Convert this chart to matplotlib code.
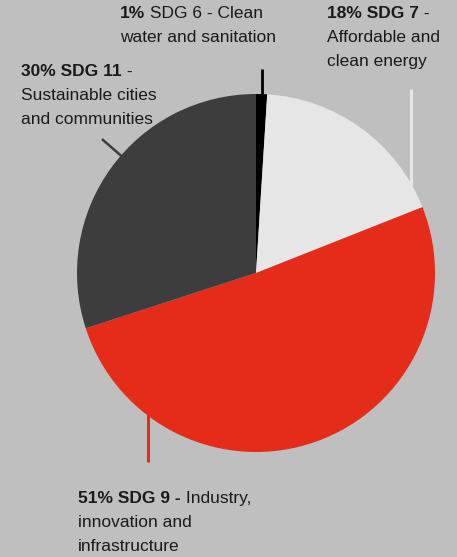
import matplotlib
matplotlib.use("Agg")
import matplotlib.pyplot as plt
import numpy as np

# data
sdgs = ["SDG 6", "SDG 7", "SDG 9", "SDG 11"]
shares = [1, 18, 51, 30]
# label text, split in lines as in the reference; (text, bold) parts per line
label_lines = {
    "SDG 6": [[("1%", True), (" SDG 6 - Clean", False)],
              [("water and sanitation", False)]],
    "SDG 7": [[("18% SDG 7", True), (" -", False)],
              [("Affordable and", False)],
              [("clean energy", False)]],
    "SDG 9": [[("51% SDG 9 -", True), (" Industry,", False)],
              [("innovation and", False)],
              [("infrastructure", False)]],
    "SDG 11": [[("30% SDG 11", True), (" -", False)],
               [("Sustainable cities", False)],
               [("and communities", False)]],
}

colors = ["#000000", "#e6e6e6", "#e52b1a", "#3d3d3d"]
bg = "#bfbfbf"
txt_color = "#1a1a1a"

W, H = 457, 557
plt.rcParams["font.family"] = ["Liberation Sans", "DejaVu Sans"]

fig = plt.figure(figsize=(W / 100, H / 100), dpi=100, facecolor=bg)

# pie geometry in pixels (from top-left)
cx, cy, R = 256, 273, 179
ax = fig.add_axes([(cx - R) / W, (H - cy - R) / H, 2 * R / W, 2 * R / H])
wedges, _ = ax.pie(shares, colors=colors, startangle=90, counterclock=False,
                   radius=1, wedgeprops=dict(linewidth=0))
ax.set_xlim(-1, 1)
ax.set_ylim(-1, 1)
ax.axis("off")


def on_edge(deg_cw, r=1.0):
    t = np.radians(90 - deg_cw)
    return r * np.cos(t), r * np.sin(t)


# leader lines: (angle clockwise from top, kind, length)
mid6 = 360 * shares[0] / 2 / 100
leaders = [
    (mid6, "up", 0.14, colors[0], 2.0),
    (60, "up", 0.53, colors[1], 2.2),
    (217, "down", 0.26, colors[2], 2.2),
    (311, "radial", 0.14, colors[3], 1.8),
]
for ang, kind, ln, c, lw in leaders:
    if kind == "radial":
        x0, y0 = on_edge(ang, 0.96)
        x1, y1 = on_edge(ang, 1 + ln)
    else:
        ex, ey = on_edge(ang)
        x0 = x1 = ex
        if kind == "up":
            y0, y1 = ey - 0.04, ey + ln
        else:
            y0, y1 = ey + 0.04, ey - ln
    ax.plot([x0, x1], [y0, y1], color=c, lw=lw, zorder=0, clip_on=False,
            solid_capstyle="butt")

# labels: left x and first baseline in pixels
label_pos = {"SDG 6": (120, 18), "SDG 7": (327, 18),
             "SDG 9": (78, 503), "SDG 11": (21, 76)}
line_gap = 24
fs = 12.5

fig.canvas.draw()
rend = fig.canvas.get_renderer()
for key, lines in label_lines.items():
    lx, ly = label_pos[key]
    for i, parts in enumerate(lines):
        x = lx
        y = ly + i * line_gap
        for s, bold in parts:
            t = fig.text(x / W, 1 - y / H, s, fontsize=fs, color=txt_color,
                         fontweight="bold" if bold else "normal",
                         va="baseline", ha="left")
            x += t.get_window_extent(rend).width

fig.savefig("out.png", dpi=100, facecolor=bg)
